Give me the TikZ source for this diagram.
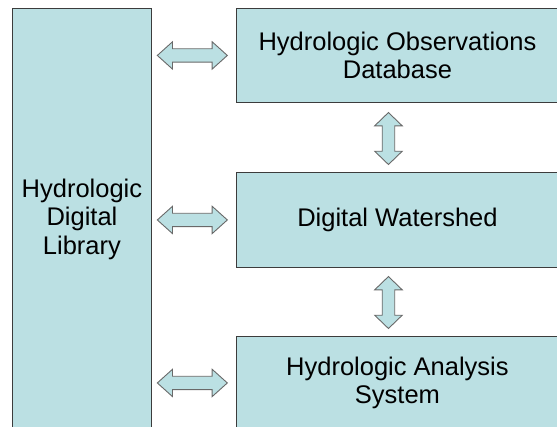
\documentclass[tikz,border=0pt]{standalone}
\usepackage{fontspec}
\setmainfont{Liberation Sans}
\usetikzlibrary{shapes.arrows, positioning}
\definecolor{boxcolor}{RGB}{187,224,227}
\definecolor{edgecolor}{RGB}{60,60,60}
\definecolor{arrowedge}{RGB}{105,105,105}

\begin{document}
\begin{tikzpicture}[
    x=1pt, y=-1pt,
    block/.style={rectangle, draw=edgecolor, line width=0.9pt, fill=boxcolor, align=center, inner sep=0pt, font=\fontsize{25.5}{28.5}\selectfont},
    hlink/.style={double arrow, draw=arrowedge, line width=0.9pt, fill=boxcolor, inner sep=6.2pt, minimum height=70pt, double arrow head extend=7pt, double arrow tip angle=84},
    vlink/.style={hlink, inner sep=5.8pt, minimum height=52pt, double arrow head extend=7.5pt, double arrow tip angle=92, shape border rotate=90}
]
    \useasboundingbox (0,0) rectangle (557,427);
    \clip (0,0) rectangle (557,427);

    % Library column
    \node[block, minimum width=139pt, minimum height=421pt, anchor=north west] (library) at (12,8) {Hydrologic\\Digital\\Library};

    % Right column
    \node[block, minimum width=322pt, minimum height=94pt, anchor=north west] (obs) at (236,8) {Hydrologic Observations\\Database};
    \node[block, minimum width=322pt, minimum height=95pt, anchor=north west] (shed) at (236,172) {Digital Watershed};
    \node[block, minimum width=322pt, minimum height=93pt, anchor=north west] (analysis) at (236,336) {Hydrologic Analysis\\System};

    % Arrows to the library
    \node[hlink, left=8pt of obs] (libobs) {};
    \node[hlink, left=8pt of shed] (libshed) {};
    \node[hlink, left=8pt of analysis] (libanalysis) {};

    % Arrows between the boxes
    \node[vlink, below=9pt of obs, xshift=-9pt] (obsshed) {};
    \node[vlink, below=8pt of shed, xshift=-9pt] (shedanalysis) {};

\end{tikzpicture}
\end{document}
